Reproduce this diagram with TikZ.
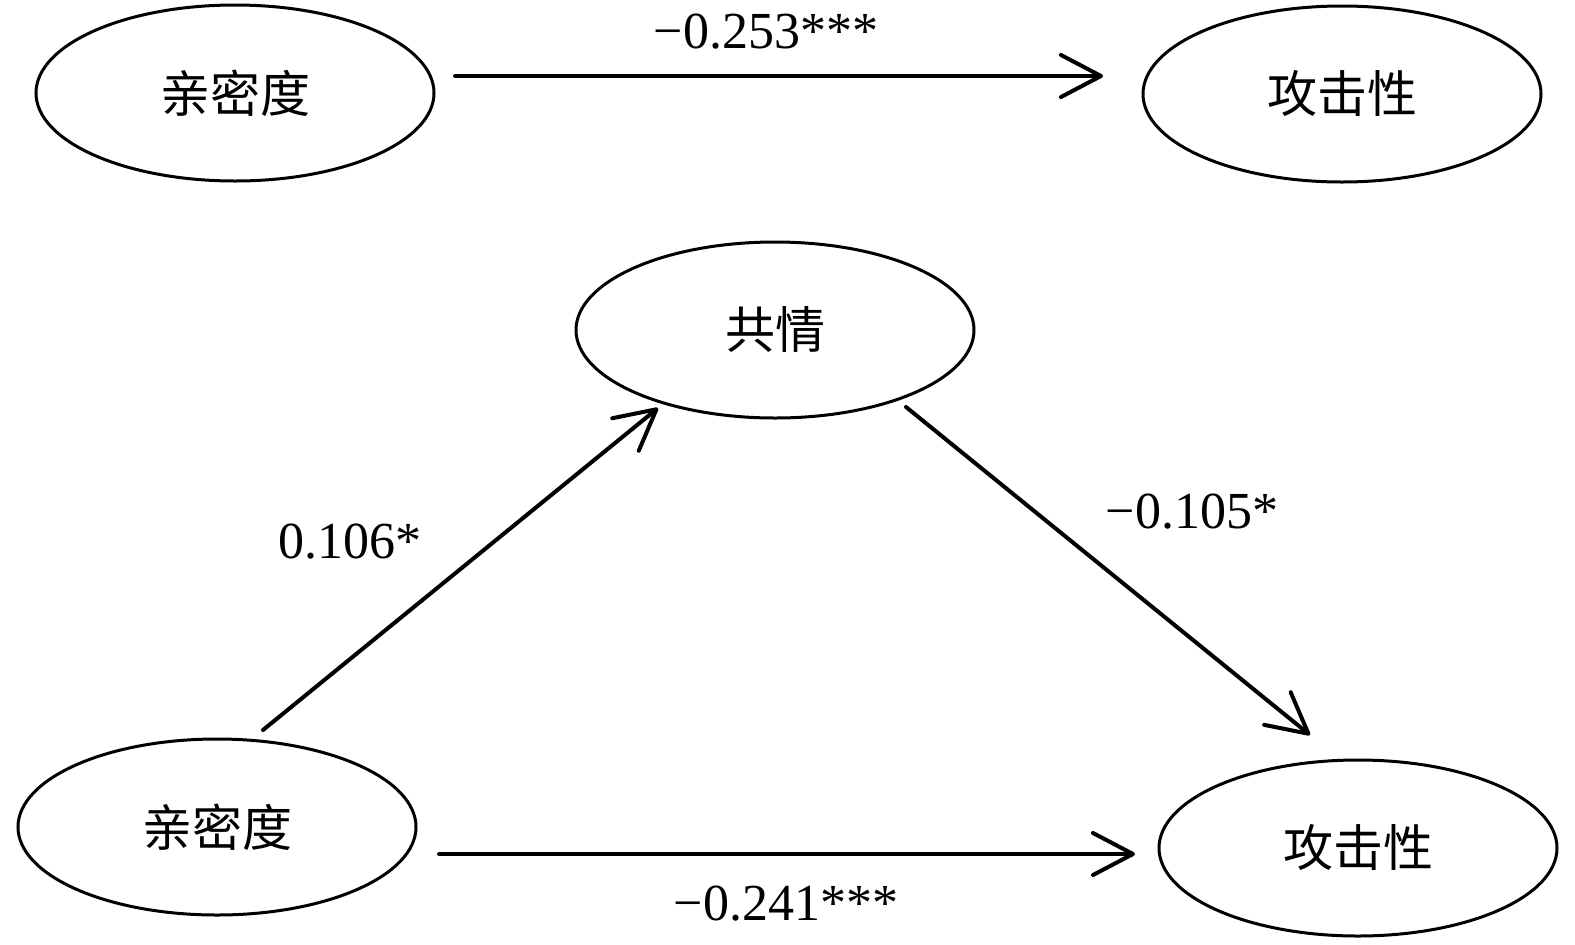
\documentclass[tikz,border=0pt]{standalone}
\usepackage{fontspec}
\setmainfont{Liberation Serif}
\newfontfamily\cjk{Noto Sans CJK SC}
\usetikzlibrary{arrows.meta,calc,shapes.geometric}
\tikzset{
  var/.style={ellipse,draw,line width=1.5pt,minimum width=199pt,minimum height=88pt,inner sep=0pt,font=\cjk\fontsize{25}{30}\selectfont},
  arr/.style={line width=2pt,line cap=round,-{Straight Barb[length=20pt,width=21pt,line width=2pt,round]}},
  coef/.style={font=\fontsize{26}{30}\selectfont,inner sep=0pt}
}
\begin{document}
\begin{tikzpicture}[x=0.5pt,y=-0.5pt]
\useasboundingbox (0,0) rectangle (1575,944);
\node[var] (l1) at (235,93) {亲密度};
\node[var] (r1) at (1342,94) {攻击性};
\node[var] (em) at (775,330) {共情};
\node[var] (bl) at (217,827) {亲密度};
\node[var] (br) at (1358,848) {攻击性};

\draw[arr] ($(l1.center)+(220,-17)$) -- ($(r1.center)+(-239,-18)$);
\draw[arr] ($(bl.center)+(46,-97)$) -- ($(em.center)+(-117,78)$);
\draw[arr] ($(em.center)+(131,77)$) -- ($(br.center)+(-48,-113)$);
\draw[arr] ($(bl.center)+(222,27)$) -- ($(br.center)+(-223,6)$);

\node[coef] (c1) at (766,32) {−0.253***};
\node[coef] (c2) at (350,542) {0.106*};
\node[coef] (c3) at (1192,512) {−0.105*};
\node[coef] (c4) at (786,904) {−0.241***};
\end{tikzpicture}
\end{document}
